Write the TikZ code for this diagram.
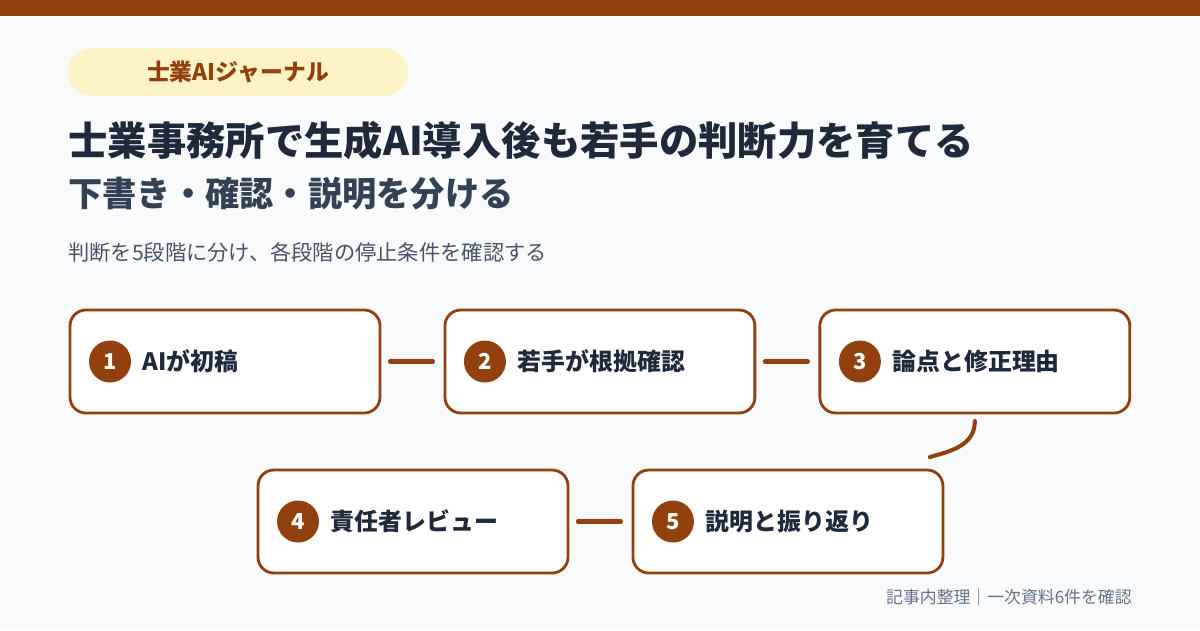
\documentclass[tikz,border=0pt]{standalone}
\usepackage{fontspec}
\setmainfont{Noto Sans CJK JP}
\usetikzlibrary{
  positioning,
  calc
}
\definecolor{barbrown}{HTML}{92400E}
\definecolor{pillfill}{HTML}{FEF3C7}
\definecolor{pagebg}{HTML}{F8FAFC}
\definecolor{inktext}{HTML}{1E293B}
\definecolor{subtext}{HTML}{334155}
\definecolor{softtext}{HTML}{475569}
\definecolor{foottext}{HTML}{64748B}

\begin{document}
\begin{tikzpicture}[
    x=0.02cm, y=-0.02cm,
    every node/.style={font=\fontsize{12}{14}\selectfont},
    stepbox/.style={rectangle, draw=barbrown, fill=white, line width=1.6pt, outer sep=0pt,
                    rounded corners=9pt, minimum width=6.2cm, minimum height=2.06cm},
    badge/.style={circle, fill=barbrown, text=white, inner sep=0pt,
                  minimum size=0.84cm, font=\fontsize{12.5}{14}\selectfont\bfseries},
    steplabel/.style={anchor=west, inner sep=0pt, text=inktext,
                      font=\fontsize{13.6}{16}\selectfont\bfseries},
    link/.style={barbrown, line width=2.3pt, line cap=round},
]

% --- Page and top bar ---
\useasboundingbox[fill=pagebg] (0,0) rectangle (1200,630);
\fill[barbrown] (0,0) rectangle (1200,16);

% --- Header ---
\node[fill=pillfill, rounded corners=0.48cm, minimum width=6.8cm, minimum height=0.96cm,
      text=barbrown, font=\fontsize{13}{15}\selectfont\bfseries] (pill) at (238,72) {士業AIジャーナル};
\node[anchor=west, inner sep=0pt, text=inktext, font=\fontsize{22.4}{25}\selectfont\bfseries]
      (title) at (68,140) {士業事務所で生成AI導入後も若手の判断力を育てる};
\node[anchor=west, inner sep=0pt, text=subtext, font=\fontsize{19.5}{22}\selectfont\bfseries]
      (subtitle) at (68,194) {下書き・確認・説明を分ける};
\node[anchor=west, inner sep=0pt, text=softtext, font=\fontsize{12.1}{14}\selectfont]
      (lead) at (68,252) {判断を5段階に分け、各段階の停止条件を確認する};

% --- Row 1: steps 1-3 ---
\node[stepbox] (b1) at (225,361.5) {};
\node[stepbox, right=1.3cm of b1] (b2) {};
\node[stepbox, right=1.3cm of b2] (b3) {};

% --- Row 2: steps 4-5 ---
\node[stepbox] (b4) at (413,521.5) {};
\node[stepbox, right=1.3cm of b4] (b5) {};

% --- Badges and labels ---
\node[badge] (n1) at ($(b1.west)+(40,0)$) {1};
\node[steplabel, right=0.22cm of n1] (t1) {AIが初稿};
\node[badge] (n2) at ($(b2.west)+(40,0)$) {2};
\node[steplabel, right=0.22cm of n2] (t2) {若手が根拠確認};
\node[badge] (n3) at ($(b3.west)+(40,0)$) {3};
\node[steplabel, right=0.22cm of n3] (t3) {論点と修正理由};
\node[badge] (n4) at ($(b4.west)+(40,0)$) {4};
\node[steplabel, right=0.22cm of n4] (t4) {責任者レビュー};
\node[badge] (n5) at ($(b5.west)+(40,0)$) {5};
\node[steplabel, right=0.22cm of n5] (t5) {説明と振り返り};

% --- Connectors ---
\draw[link, shorten <=0.2cm, shorten >=0.24cm] (b1.east) -- (b2.west);
\draw[link, shorten <=0.2cm, shorten >=0.24cm] (b2.east) -- (b3.west);
\coordinate (c3) at ($(b3.south)+(0,8)$);
\coordinate (c5) at ($(b5.north east)+(-13,-13)$);
\draw[link] (c3) .. controls ($(c3)+(0,24)$) and ($(c5)+(22,-6)$) .. (c5);
\draw[link, shorten <=0.2cm, shorten >=0.24cm] (b4.east) -- (b5.west);

% --- Footer ---
\node[anchor=east, inner sep=0pt, text=foottext, font=\fontsize{9.6}{11}\selectfont]
      (foot) at (1132,597) {記事内整理｜一次資料6件を確認};

\end{tikzpicture}
\end{document}
